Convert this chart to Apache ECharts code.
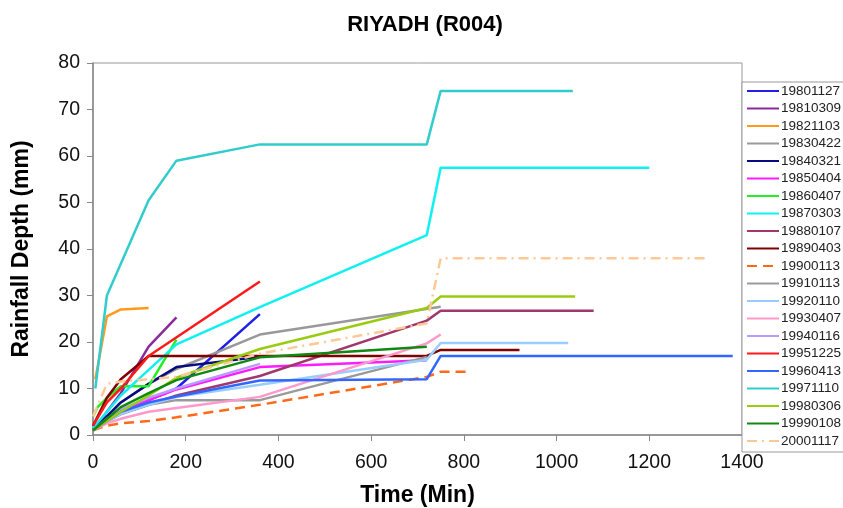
<!DOCTYPE html>
<html><head><meta charset="utf-8">
<script src="https://cdn.jsdelivr.net/npm/echarts@6/dist/echarts.min.js"></script>
<style>html,body{margin:0;padding:0;background:#fff}#c{width:843px;height:508px}</style>
</head><body><div id="c"></div>
<script>
const xTicks = [0, 200, 400, 600, 800, 1000, 1200, 1400];
const yTicks = [0, 10, 20, 30, 40, 50, 60, 70, 80];
const names = ['19801127','19810309','19821103','19830422','19840321','19850404','19860407','19870303','19880107','19890403','19900113','19910113','19920110','19930407','19940116','19951225','19960413','19971110','19980306','19990108','20001117'];
const s19801127 = [[0,1],[30,3],[60,5],[120,7.5],[180,10],[360,26]];
const s19810309 = [[0,1],[30,5],[60,9],[120,19],[180,25.3]];
const s19821103 = [[5,12],[30,25.5],[60,27],[120,27.3]];
const s19830422 = [[0,1],[30,4],[60,7],[120,11],[180,14.2],[360,21.6],[750,27.6]];
const s19840321 = [[0,1],[30,4],[60,7],[120,11],[180,14.6],[360,16.8]];
const s19850404 = [[0,1],[30,3],[60,5],[120,7.5],[180,9.8],[360,14.6],[720,16.1]];
const s19860407 = [[0,4],[10,6],[30,8],[60,10.5],[120,10.5],[180,20.5]];
const s19870303 = [[0,1.5],[30,5],[60,8.5],[120,14],[180,19.5],[360,27.5],[720,43],[750,57.5],[1200,57.5]];
const s19880107 = [[0,1],[30,3],[60,4.5],[120,6.5],[180,8.5],[360,12.7],[720,24.6],[750,26.7],[1080,26.7]];
const s19890403 = [[0,2],[30,8],[60,12],[120,17],[360,17],[720,17],[750,18.3],[920,18.3]];
const s19900113 = [[0,1],[30,2],[60,2.5],[120,3],[180,3.8],[360,6.5],[720,12.5],[750,13.6],[810,13.6]];
const s19910113 = [[0,1],[30,3],[60,5],[120,6.5],[180,7.5],[360,7.5],[720,16.8]];
const s19920110 = [[0,1],[30,3],[60,4.5],[120,6.5],[180,8.2],[360,10.8],[720,16.2],[750,19.8],[1025,19.8]];
const s19930407 = [[0,1],[30,2.5],[60,3.5],[120,5],[180,5.8],[360,8.2],[720,19.7],[750,21.6]];
const s19940116 = [[0,1],[30,3.5],[60,5.5],[120,8],[180,10],[360,15.3]];
const s19951225 = [[0,2],[30,7],[60,10],[120,17],[360,33]];
const s19960413 = [[0,1],[30,3],[60,5],[120,7],[180,8.3],[360,11.7],[720,12],[750,17],[1380,17]];
const s19971110 = [[5,10],[30,30],[120,50.5],[180,59],[360,62.5],[720,62.5],[750,74],[1035,74]];
const s19980306 = [[0,1],[30,3],[60,5],[120,8.5],[180,12.3],[360,18.5],[720,27.3],[750,29.8],[1040,29.8]];
const s19990108 = [[0,1],[30,3.5],[60,6],[120,9],[180,11.8],[360,16.7],[720,19]];
const s20001117 = [[0,4],[30,11],[60,11.5],[120,12],[180,12.5],[360,17.5],[720,24],[750,38],[1320,38]];
const seriesData = [s19801127,s19810309,s19821103,s19830422,s19840321,s19850404,s19860407,s19870303,s19880107,s19890403,s19900113,s19910113,s19920110,s19930407,s19940116,s19951225,s19960413,s19971110,s19980306,s19990108,s20001117];
const colors = ['#1F1FE8','#8B2B9B','#FF9A1A','#999999','#0A0A80','#FF1AFF','#22EE22','#11F0F0','#A0386E','#800000','#FF6A1A','#9A9A9A','#99CCFF','#FF99CC','#BB99FF','#FF1A1A','#3366FF','#33CCCC','#99CC11','#118811','#FFC896'];
const lineTypes = {'19900113':[10,6], '20001117':[10,5,2,5]};

const FONT = 'Liberation Sans, Arial, sans-serif';
const chart = echarts.init(document.getElementById('c'), null, {renderer:'canvas'});
chart.setOption({
  animation:false,
  backgroundColor:'#fff',
  color: colors,
  title:{text:'RIYADH (R004)', left:420, top:9, textAlign:'center',
    textStyle:{fontFamily:FONT, fontSize:22, fontWeight:'bold', color:'#000'}},
  grid:{left:93, top:63, width:649, height:372, show:true, borderColor:'#999', borderWidth:1, containLabel:false, outerBoundsMode:'none'},
  legend:{orient:'vertical', left:742, top:82, width:140, padding:[2,40,4,4], itemGap:3.5,
    itemWidth:32, itemHeight:14, borderColor:'#999', borderWidth:1, backgroundColor:'#fff',
    itemStyle:{opacity:0},
    textStyle:{fontFamily:FONT, fontSize:13.5, color:'#222', padding:[0,0,0,-3]}, data:names},
  xAxis:{type:'value', min:0, max:1400, interval:200, name:'Time (Min)', nameLocation:'middle', nameGap:49,
    nameTextStyle:{fontFamily:FONT, fontSize:23, fontWeight:'bold', color:'#000'},
    axisLine:{show:true, lineStyle:{color:'#888', width:1.5}},
    axisTick:{show:true, length:6, lineStyle:{color:'#888'}},
    axisLabel:{fontFamily:FONT, fontSize:19.5, color:'#111', margin:18, formatter:v=>xTicks.includes(v)?String(v):''},
    splitLine:{show:false}},
  yAxis:{type:'value', min:0, max:80, interval:10, name:'Rainfall Depth (mm)', nameLocation:'middle', nameGap:60,
    nameTextStyle:{fontFamily:FONT, fontSize:23, fontWeight:'bold', color:'#000'},
    axisLine:{show:true, lineStyle:{color:'#888', width:1.5}},
    axisTick:{show:true, length:6, lineStyle:{color:'#888'}},
    axisLabel:{fontFamily:FONT, fontSize:19.5, color:'#111', margin:13, formatter:v=>yTicks.includes(v)?String(v):''},
    splitLine:{show:false}},
  series: names.map((n,i)=>({
    name:n, type:'line', data:seriesData[i], showSymbol:false, symbol:'none',
    lineStyle:{width:2.5, color:colors[i], type: lineTypes[n] || 'solid'},
    itemStyle:{color:colors[i]}
  }))
});
</script></body></html>
